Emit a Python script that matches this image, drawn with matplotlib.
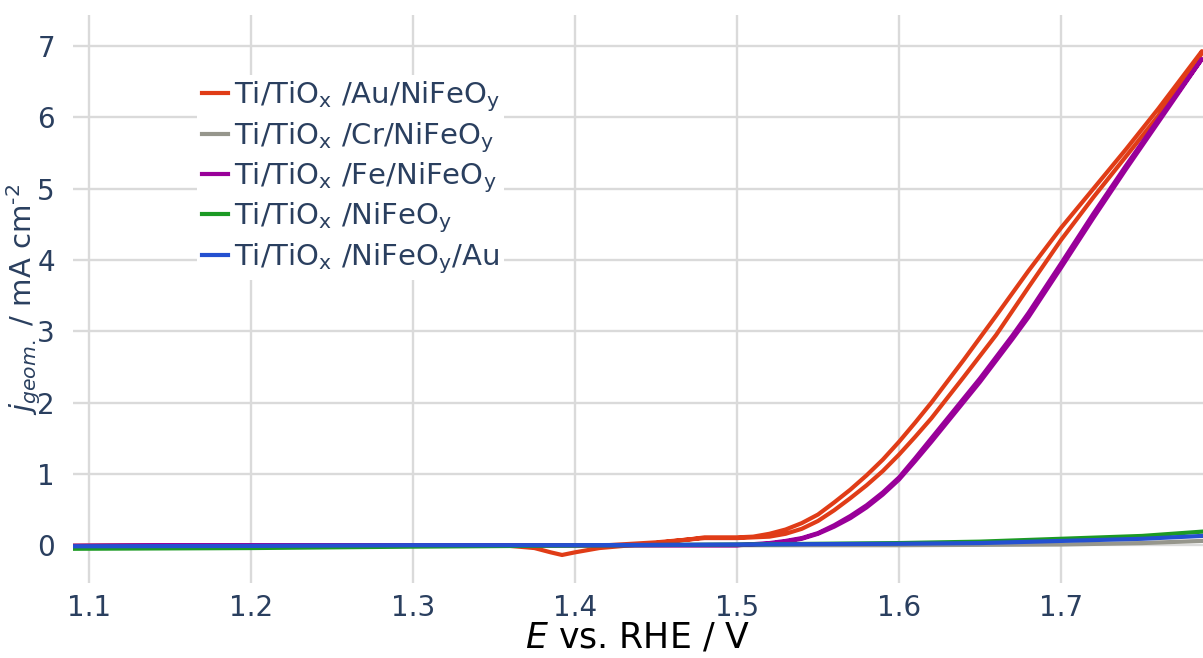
import matplotlib
matplotlib.use('Agg')
import matplotlib.pyplot as plt
import numpy as np

plt.rcParams['font.family'] = ['DejaVu Sans']
plt.rcParams['mathtext.fontset'] = 'dejavusans'

# ---------------------------------------------------------------------------
# Data
# ---------------------------------------------------------------------------
# Ti/TiOx/Au/NiFeOy: anodic branch, then cathodic branch (one CV loop)
au_E_up = [1.09, 1.20, 1.30, 1.36, 1.42, 1.45, 1.48, 1.50, 1.52, 1.53, 1.54,
           1.55, 1.56, 1.57, 1.58, 1.59, 1.60, 1.61, 1.62, 1.64, 1.66, 1.68,
           1.70, 1.72, 1.74, 1.76, 1.787]
au_j_up = [-0.01, 0.0, 0.0, 0.0, 0.0, 0.04, 0.10, 0.10, 0.12, 0.16, 0.23,
           0.34, 0.49, 0.66, 0.84, 1.04, 1.27, 1.52, 1.78, 2.36, 2.95, 3.62,
           4.28, 4.88, 5.45, 6.02, 6.90]
au_E_down = [1.787, 1.76, 1.74, 1.72, 1.70, 1.68, 1.66, 1.64, 1.62, 1.61,
             1.60, 1.59, 1.58, 1.57, 1.56, 1.55, 1.54, 1.53, 1.52, 1.51, 1.50,
             1.48, 1.47, 1.45, 1.43, 1.415, 1.40, 1.392, 1.385, 1.375, 1.36,
             1.30, 1.20, 1.09]
au_j_down = [6.93, 6.12, 5.55, 5.00, 4.45, 3.85, 3.22, 2.60, 2.00, 1.72,
             1.45, 1.20, 0.98, 0.78, 0.60, 0.43, 0.31, 0.22, 0.16, 0.12, 0.11,
             0.11, 0.08, 0.03, -0.01, -0.04, -0.10, -0.137, -0.10, -0.04, -0.01,
             0.0, 0.0, -0.01]

# Ti/TiOx/Cr/NiFeOy
cr_E = [1.09, 1.20, 1.30, 1.40, 1.50, 1.60, 1.70, 1.75, 1.787]
cr_j = [-0.01, 0.0, 0.0, 0.0, 0.0, 0.0, 0.01, 0.03, 0.06]

# Ti/TiOx/Fe/NiFeOy
fe_E_up = [1.09, 1.20, 1.30, 1.40, 1.50, 1.52, 1.53, 1.54, 1.55, 1.56, 1.57,
           1.58, 1.59, 1.60, 1.61, 1.62, 1.63, 1.64, 1.65, 1.66, 1.67, 1.68,
           1.70, 1.72, 1.74, 1.76, 1.787]
fe_j_up = [-0.01, 0.0, 0.0, 0.0, 0.0, 0.03, 0.06, 0.10, 0.17, 0.28, 0.41,
           0.56, 0.74, 0.95, 1.22, 1.50, 1.78, 2.06, 2.34, 2.64, 2.94, 3.26,
           3.95, 4.65, 5.32, 5.97, 6.82]
fe_E_down = [1.787, 1.76, 1.74, 1.72, 1.70, 1.68, 1.67, 1.66, 1.65, 1.64,
             1.63, 1.62, 1.61, 1.60, 1.59, 1.58, 1.57, 1.56, 1.55, 1.54, 1.53,
             1.52, 1.50, 1.40, 1.30, 1.20, 1.09]
fe_j_down = [6.82, 5.93, 5.27, 4.59, 3.89, 3.20, 2.89, 2.59, 2.29, 2.01,
             1.73, 1.45, 1.18, 0.92, 0.71, 0.53, 0.38, 0.26, 0.16, 0.09, 0.05,
             0.02, 0.0, 0.0, 0.0, 0.0, -0.01]

# Ti/TiOx/NiFeOy
ni_E = [1.09, 1.20, 1.30, 1.40, 1.50, 1.60, 1.65, 1.70, 1.75, 1.787]
ni_j = [-0.05, -0.04, -0.02, -0.005, 0.01, 0.03, 0.05, 0.09, 0.13, 0.19]

# Ti/TiOx/NiFeOy/Au
top_E = [1.09, 1.20, 1.30, 1.40, 1.50, 1.60, 1.65, 1.70, 1.75, 1.787]
top_j = [-0.015, -0.01, 0.0, 0.0, 0.01, 0.02, 0.03, 0.06, 0.09, 0.13]

labels = [r'Ti/TiO$_\mathrm{x}$ /Au/NiFeO$_\mathrm{y}$',
          r'Ti/TiO$_\mathrm{x}$ /Cr/NiFeO$_\mathrm{y}$',
          r'Ti/TiO$_\mathrm{x}$ /Fe/NiFeO$_\mathrm{y}$',
          r'Ti/TiO$_\mathrm{x}$ /NiFeO$_\mathrm{y}$',
          r'Ti/TiO$_\mathrm{x}$ /NiFeO$_\mathrm{y}$/Au']
colors = ['#e03c17', '#96968c', '#990099', '#1c9a24', '#2450d0']

x_ticks = [1.1, 1.2, 1.3, 1.4, 1.5, 1.6, 1.7]
y_ticks = [0, 1, 2, 3, 4, 5, 6, 7]

TEXT = '#2a3f5f'
GRID = '#dadada'

fig = plt.figure(figsize=(12.03, 6.58), dpi=100)
ax = fig.add_axes([0.0607, 0.114, 0.9393, 0.863])
fig.patch.set_facecolor('white')
ax.set_facecolor('white')

series = [
    (au_E_up + au_E_down, au_j_up + au_j_down),
    (cr_E, cr_j),
    (fe_E_up + fe_E_down, fe_j_up + fe_j_down),
    (ni_E, ni_j),
    (top_E, top_j),
]
for (E, j), lab, col in zip(series, labels, colors):
    ax.plot(E, j, color=col, lw=3.0, label=lab, solid_joinstyle='round')

ax.set_xlim(1.0901, 1.7877)
ax.set_ylim(-0.53, 7.436)
ax.set_xticks(x_ticks)
ax.set_yticks(y_ticks)
ax.set_xticklabels([f'{t:.1f}' for t in x_ticks])
ax.grid(True, color=GRID, lw=1.7)
ax.set_axisbelow(True)
for s in ax.spines.values():
    s.set_visible(False)
ax.tick_params(axis='both', length=0, labelsize=20, colors=TEXT)
ax.tick_params(axis='x', pad=8)
ax.tick_params(axis='y', pad=13)

ax.set_xlabel(r'$E$ vs. RHE / V', fontsize=25, color='black')
ax.xaxis.set_label_coords(0.5, -0.066)
ax.set_ylabel(r'$j_{geom.}$ / mA cm$^{\text{-2}}$', fontsize=21, color=TEXT)
ax.yaxis.set_label_coords(-0.027, 0.5)

leg = ax.legend(loc='upper left', bbox_to_anchor=(0.097, 0.92), fontsize=21,
                frameon=True, fancybox=False, edgecolor='none',
                facecolor='white', framealpha=1.0, handlelength=0.9,
                handletextpad=0.2, labelspacing=0.2, borderpad=0.15)
for t in leg.get_texts():
    t.set_color(TEXT)

fig.savefig('out.png', dpi=100, facecolor='white')
